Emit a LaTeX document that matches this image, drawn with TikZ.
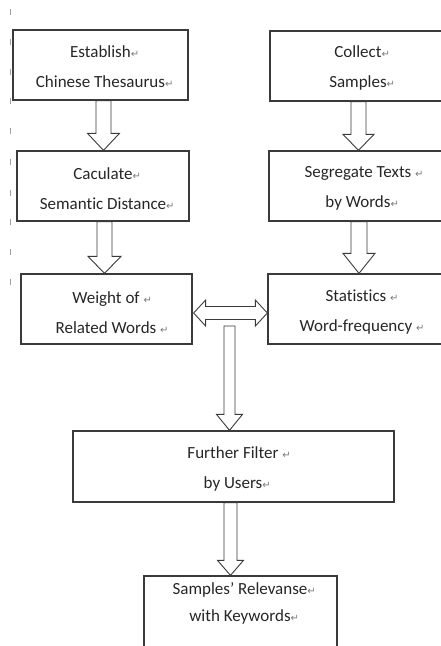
\documentclass[tikz,border=0pt]{standalone}
\usepackage{fontspec}
\setmainfont{Carlito}[Ligatures={NoCommon}]
\newfontfamily\retfont{DejaVu Sans}
\usetikzlibrary{calc}
\definecolor{linec}{HTML}{3A3A3A}
\definecolor{txtc}{HTML}{262626}
\definecolor{retc}{HTML}{7A7A7A}
\definecolor{tickc}{HTML}{A0A0A0}
\newcommand\ret{\rlap{{\retfont\fontsize{10}{10}\selectfont\textcolor{retc}{↵}}}}
\newcommand\sret{\rlap{\ {\retfont\fontsize{10}{10}\selectfont\textcolor{retc}{↵}}}}
% #1 source anchor, #2 target node, #3 x centre, #4 shaft half width, #5 head half width, #6 head length
\newcommand\downblock[6]{%
  \draw[blockarrow] let \p1=(#1), \p2=(#2.north) in
    ({#3pt-#4pt},\y1) -- ({#3pt-#4pt},{\y2+#6pt}) -- ({#3pt-#5pt},{\y2+#6pt})
    -- (#3pt,\y2) -- ({#3pt+#5pt},{\y2+#6pt}) -- ({#3pt+#4pt},{\y2+#6pt})
    -- ({#3pt+#4pt},\y1) -- cycle;}
\begin{document}
\begin{tikzpicture}[x=1pt,y=-1pt,
  box/.style={draw=linec,line width=1.3pt,rectangle,minimum height=70pt,inner sep=0pt},
  txt/.style={align=center,text=txtc,font=\fontsize{17}{30}\selectfont,inner sep=0pt},
  blockarrow/.style={draw=linec,line width=0.9pt,fill=white,line join=miter},
  tickmark/.style={draw=tickc,line width=0.8pt}]
\useasboundingbox (0,0) rectangle (441,646);
\clip (0,0) rectangle (441,646);
% left margin ticks
\foreach \ty in {12,42,72,101,131,162,193,222,252,282}
  \draw[tickmark] (10,\ty-3) -- (10,\ty+3);
% boxes
\node[box,minimum width=175pt] (b1) at (100.5,65) {};
\node[box,minimum width=176pt] (b2) at (358,66) {};
\node[box,minimum width=172pt] (b3) at (103,186) {};
\node[box,minimum width=176pt] (b5) at (357,186) {};
\node[box,minimum width=171pt] (b4) at (106.5,309) {};
\node[box,minimum width=176pt] (b6) at (356,309) {};
\node[box,minimum width=321pt,minimum height=71pt] (b7) at (233.5,466.5) {};
\node[box,minimum width=193pt,minimum height=74pt] (b8) at (240.5,613) {};
% texts
\node[txt] (t1) at (100.5,67) {Establish\ret\\Chinese Thesaurus\ret};
\node[txt] (t2) at (358,68) {Collect\ret\\Samples\ret};
\node[txt] (t3) at (103,188.5) {Caculate\ret\\Semantic Distance\ret};
\node[txt] (t5) at (358,188.5) {Segregate Texts\sret\\by Words\ret};
\node[txt] (t4) at (106,313) {Weight of\sret\\Related Words\sret};
\node[txt] (t6) at (356,312.5) {Statistics\sret\\Word-frequency\sret};
\node[txt] (t7) at (233,468.5) {Further Filter\sret\\by Users\ret};
\node[txt,font=\fontsize{17}{27}\selectfont] (t8) at (240,603.5) {Samples’ Relevanse\ret\\with Keywords\ret};
% block arrows
\downblock{b1.south}{b3}{103.5}{7.5}{16}{17}
\downblock{b3.south}{b4}{104.5}{7.5}{16.5}{17}
\downblock{b2.south}{b5}{358.5}{7.5}{15.5}{16}
\downblock{b5.south}{b6}{359}{8}{16}{20}
\coordinate (ds) at (229.5,326);
\downblock{ds}{b7}{229.5}{5.5}{13}{16}
\downblock{b7.south}{b8}{230.5}{6.5}{13}{15}
% double arrow
\coordinate (dm) at (230,313);
\draw[blockarrow] let \p1=(b4.east), \p2=(b6.west), \p3=(dm) in
  ({\x1+1pt},\y3) -- ({\x1+13pt},{\y3+13pt}) -- ({\x1+13pt},{\y3+6.5pt})
  -- ({\x2-12pt},{\y3+6.5pt}) -- ({\x2-12pt},{\y3+13pt}) -- (\x2,\y3)
  -- ({\x2-12pt},{\y3-13pt}) -- ({\x2-12pt},{\y3-6.5pt})
  -- ({\x1+13pt},{\y3-6.5pt}) -- ({\x1+13pt},{\y3-13pt}) -- cycle;
\end{tikzpicture}
\end{document}
